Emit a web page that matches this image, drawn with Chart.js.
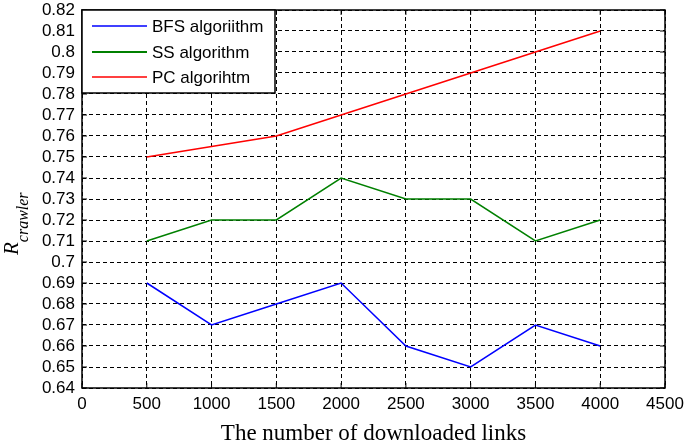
<!DOCTYPE html>
<html><head><meta charset="utf-8">
<script src="https://cdn.jsdelivr.net/npm/chart.js@4"></script>
<style>html,body{margin:0;padding:0;background:#fff}#wrap{width:685px;height:444px}</style>
</head><body><div id="wrap"><canvas id="c" width="685" height="444"></canvas></div>
<script>
const xValues = [500, 1000, 1500, 2000, 2500, 3000, 3500, 4000];
const bfsValues = [0.69, 0.67, 0.68, 0.69, 0.66, 0.65, 0.67, 0.66];
const ssValues = [0.71, 0.72, 0.72, 0.74, 0.73, 0.73, 0.71, 0.72];
const pcValues = [0.75, 0.755, 0.76, 0.77, 0.78, 0.79, 0.80, 0.81];
const seriesNames = ['BFS algoriithm', 'SS algorithm', 'PC algorihtm'];
const xTicks = [0, 500, 1000, 1500, 2000, 2500, 3000, 3500, 4000, 4500];
const yTicks = [0.64,0.65,0.66,0.67,0.68,0.69,0.7,0.71,0.72,0.73,0.74,0.75,0.76,0.77,0.78,0.79,0.8,0.81,0.82];
const xTitle = 'The number of downloaded links';
const yTitleMain = 'R', yTitleSub = 'crawler';
const colors = ['#0000ff', '#008000', '#ff0000'];

const pts = v => xValues.map((x,i)=>({x:x,y:v[i]}));
const extras = {
  id:'extras',
  afterDraw(chart){
    const ctx = chart.ctx, a = chart.chartArea;
    ctx.save();
    ctx.strokeStyle='#000'; ctx.lineWidth=1.5; ctx.setLineDash([]);
    ctx.strokeRect(a.left, a.top, a.right-a.left, a.bottom-a.top);
    ctx.lineWidth=1;
    const xs=chart.scales.x, ysc=chart.scales.y;
    ctx.beginPath();
    xTicks.forEach(v=>{const p=xs.getPixelForValue(v); ctx.moveTo(p,a.bottom); ctx.lineTo(p,a.bottom-5); ctx.moveTo(p,a.top); ctx.lineTo(p,a.top+5);});
    yTicks.forEach(v=>{const p=ysc.getPixelForValue(v); ctx.moveTo(a.left,p); ctx.lineTo(a.left+5,p); ctx.moveTo(a.right,p); ctx.lineTo(a.right-5,p);});
    ctx.stroke();
    ctx.lineWidth=1.5;
    const lx=a.left, ly=a.top, lw=193, lh=83;
    ctx.fillStyle='#fff'; ctx.fillRect(lx,ly,lw,lh);
    ctx.strokeRect(lx,ly,lw,lh);
    ctx.font='17px "Liberation Sans", Arial, sans-serif';
    ctx.textBaseline='middle'; ctx.textAlign='left';
    const ys=[16,42,67];
    for(let i=0;i<3;i++){
      ctx.strokeStyle=colors[i]; ctx.lineWidth=i==1?2:1.5;
      ctx.beginPath(); ctx.moveTo(lx+10, ly+ys[i]); ctx.lineTo(lx+65, ly+ys[i]); ctx.stroke();
      ctx.fillStyle='#000'; ctx.fillText(seriesNames[i], lx+70, ly+ys[i]+1);
    }
    ctx.font='23px "Liberation Serif", "Times New Roman", serif';
    ctx.textAlign='center'; ctx.textBaseline='alphabetic';
    ctx.fillText(xTitle, (a.left+a.right)/2, 440);
    ctx.translate(18, 255);
    ctx.rotate(-Math.PI/2);
    ctx.textAlign='left';
    ctx.font='italic 21px "Liberation Serif", serif';
    const w1=ctx.measureText(yTitleMain).width;
    ctx.fillText(yTitleMain, 0, 0);
    ctx.font='italic 16px "Liberation Serif", serif';
    ctx.fillText(yTitleSub, w1, 10);
    ctx.restore();
  }
};
new Chart(document.getElementById('c'), {
  type:'line',
  data:{datasets:[
    {label:seriesNames[0], data:pts(bfsValues), borderColor:colors[0], borderWidth:1.5, pointRadius:0, tension:0},
    {label:seriesNames[1], data:pts(ssValues), borderColor:colors[1], borderWidth:1.5, pointRadius:0, tension:0},
    {label:seriesNames[2], data:pts(pcValues), borderColor:colors[2], borderWidth:1.5, pointRadius:0, tension:0}
  ]},
  options:{
    responsive:false, animation:false, devicePixelRatio:1,
    layout:{padding:{top:10,right:20,left:0,bottom:0}},
    plugins:{legend:{display:false}, tooltip:{enabled:false}},
    scales:{
      x:{type:'linear', min:0, max:4500,
        afterBuildTicks:s=>{s.ticks=xTicks.map(v=>({value:v}));},
        afterFit:s=>{s.height=56; s.paddingLeft=0; s.paddingRight=0;},
        grid:{color:'#000', lineWidth:1, drawTicks:false, tickLength:0},
        border:{display:false, dash:[4,3]},
        ticks:{color:'#000', padding:6, autoSkip:false, maxRotation:0, font:{family:'"Liberation Sans", Arial, sans-serif', size:17}, callback:v=>String(v)}
      },
      y:{type:'linear', min:0.64, max:0.82,
        afterBuildTicks:s=>{s.ticks=yTicks.map(v=>({value:v}));},
        afterFit:s=>{s.width=82; s.paddingTop=0; s.paddingBottom=0;},
        grid:{color:'#000', lineWidth:1, drawTicks:false, tickLength:0},
        border:{display:false, dash:[4,3]},
        ticks:{color:'#000', padding:7, autoSkip:false, font:{family:'"Liberation Sans", Arial, sans-serif', size:17}, callback:v=>String(parseFloat(v.toFixed(3)))}
      }
    }
  },
  plugins:[extras]
});
</script></body></html>
